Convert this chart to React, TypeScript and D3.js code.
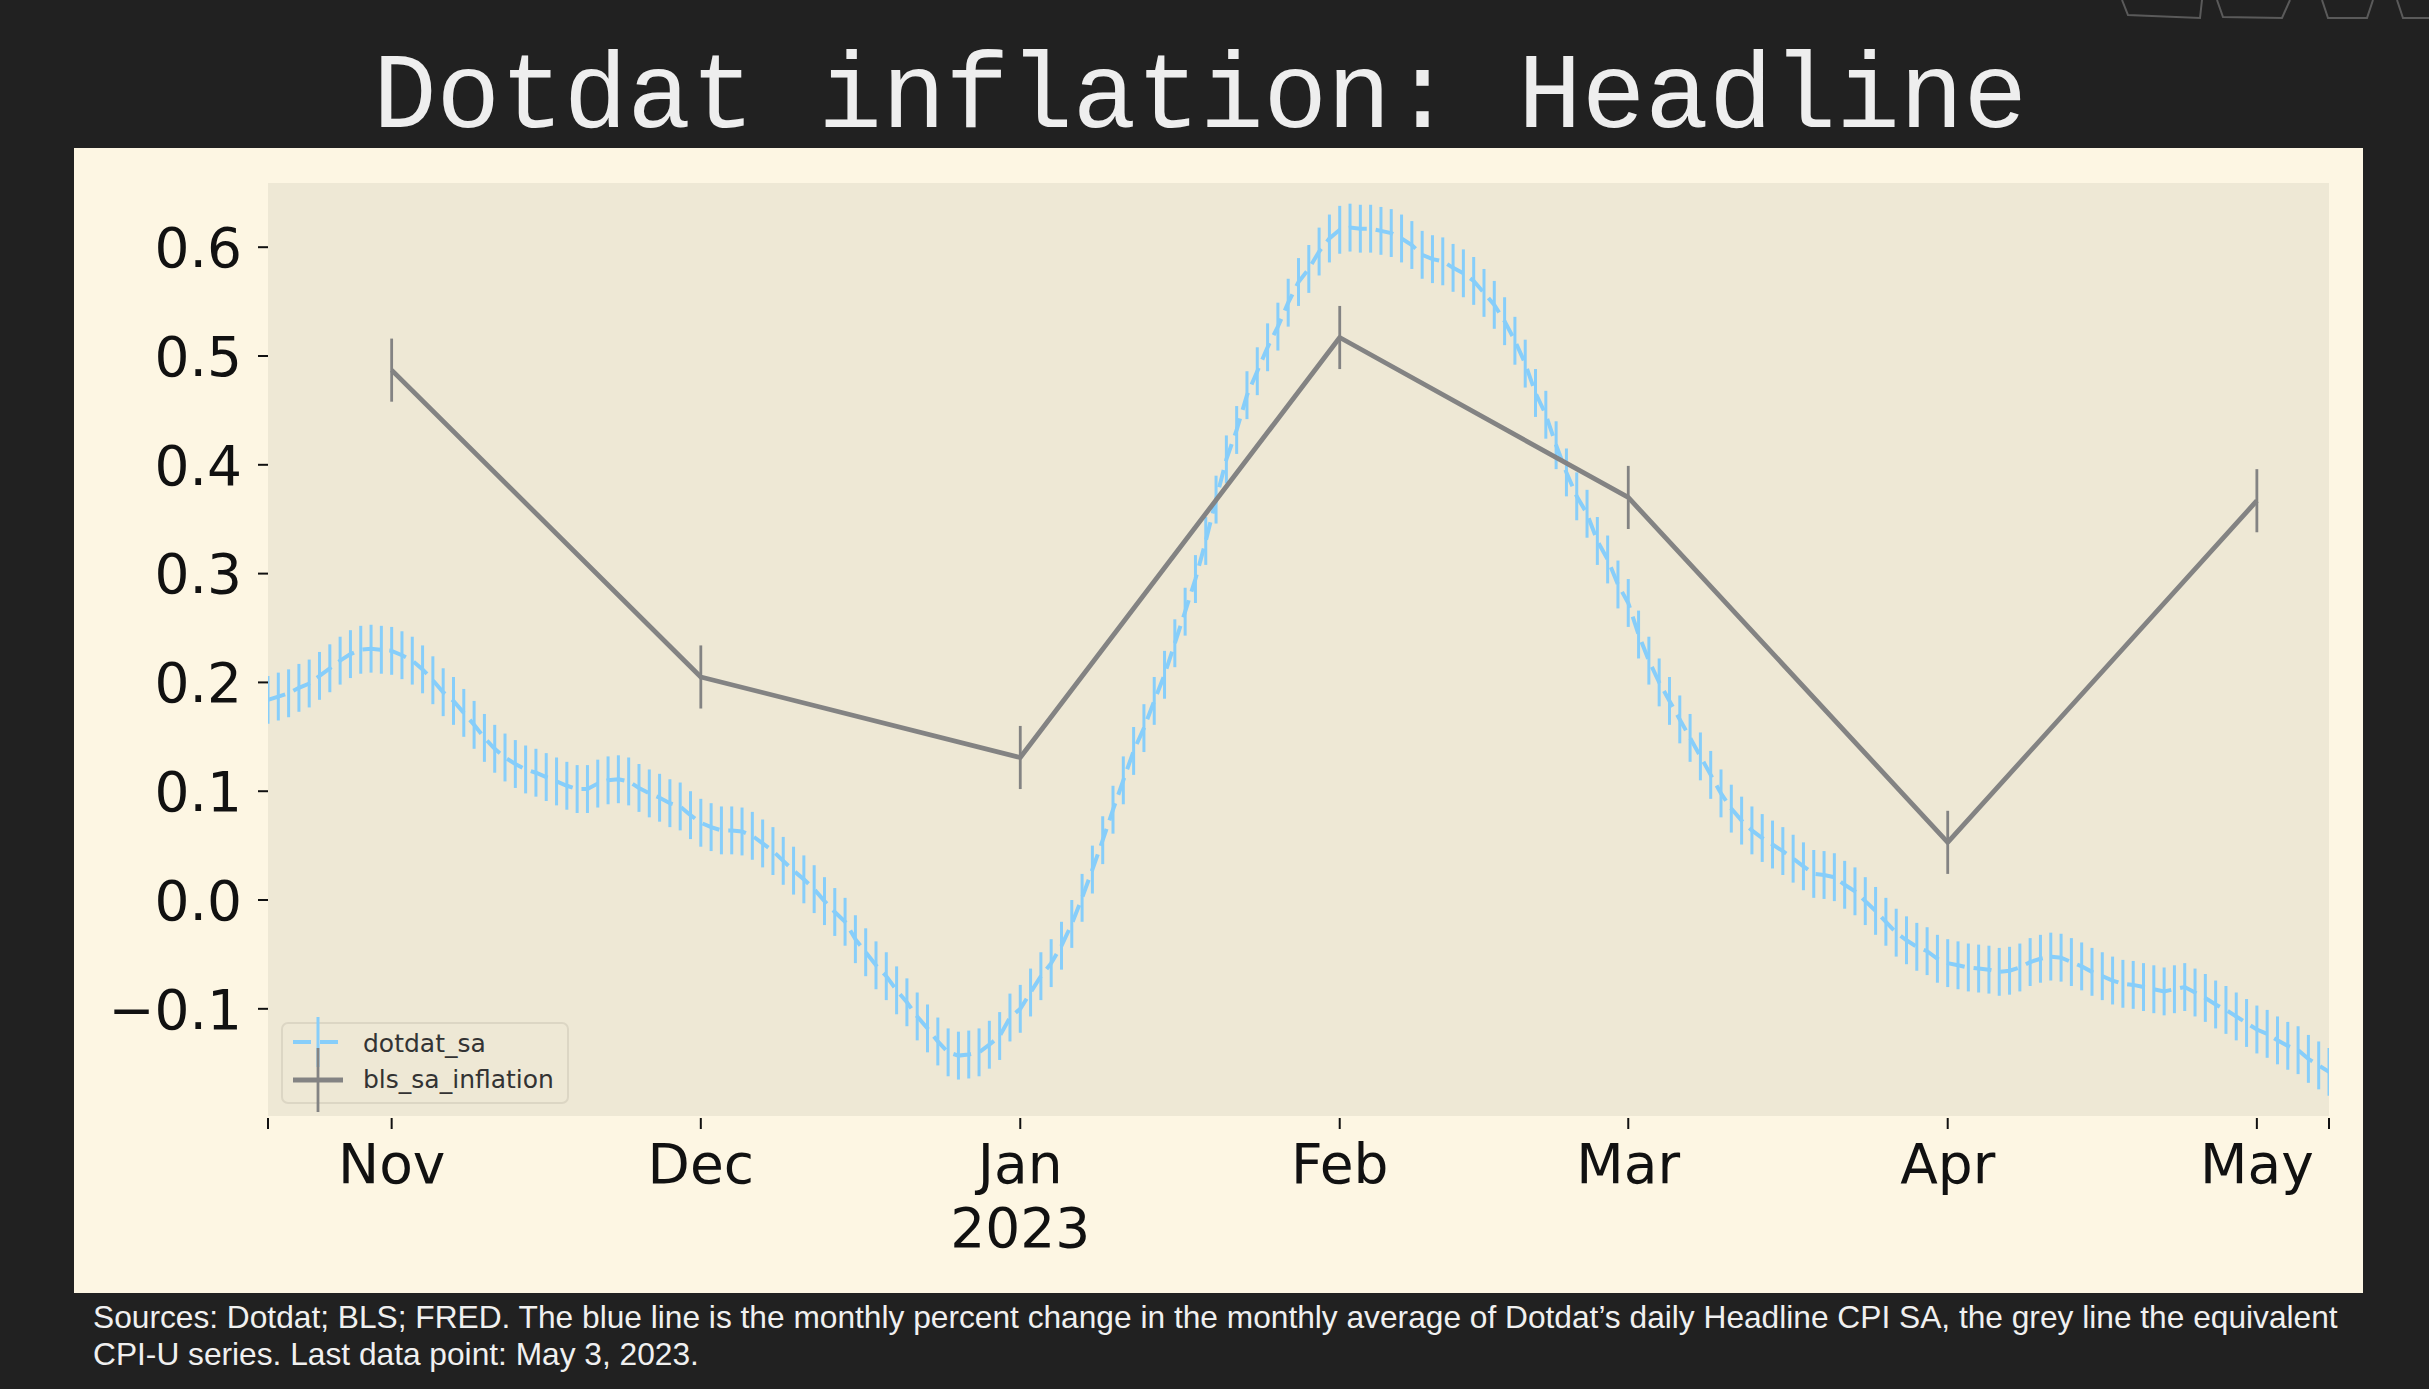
import React from 'react';
import * as d3 from 'd3';

// ---------- data ----------
const TITLE = 'Dotdat inflation: Headline';
const FOOTER_LINES = [
  'Sources: Dotdat; BLS; FRED. The blue line is the monthly percent change in the monthly average of Dotdat\u2019s daily Headline CPI SA, the grey line the equivalent',
  'CPI-U series. Last data point: May 3, 2023.',
];

const X_START = new Date(2022, 9, 20);
const X_END = new Date(2023, 4, 8);
const DOTDAT_START = new Date(2022, 9, 20);

// daily values, one per day from DOTDAT_START
const dotdatSa = [
  0.184, 0.187, 0.190, 0.195, 0.199, 0.206, 0.213, 0.220, 0.226, 0.230,
  0.231, 0.230, 0.229, 0.225, 0.220, 0.212, 0.202, 0.191, 0.183, 0.172,
  0.161, 0.149, 0.139, 0.131, 0.125, 0.120, 0.117, 0.113, 0.109, 0.105,
  0.102, 0.102, 0.107, 0.110, 0.111, 0.109, 0.103, 0.098, 0.094, 0.089,
  0.086, 0.078, 0.071, 0.067, 0.064, 0.064, 0.063, 0.059, 0.052, 0.045,
  0.036, 0.027, 0.019, 0.010, -0.001, -0.011, -0.020, -0.036, -0.048, -0.060,
  -0.070, -0.083, -0.094, -0.107, -0.118, -0.130, -0.140, -0.143, -0.142, -0.140,
  -0.133, -0.125, -0.108, -0.100, -0.085, -0.070, -0.058, -0.042, -0.022, 0.002,
  0.028, 0.055, 0.083, 0.110, 0.137, 0.158, 0.183, 0.207, 0.236, 0.265,
  0.295, 0.330, 0.368, 0.405, 0.432, 0.464, 0.486, 0.508, 0.527, 0.549,
  0.568, 0.580, 0.596, 0.608, 0.616, 0.618, 0.617, 0.617, 0.615, 0.613,
  0.608, 0.602, 0.593, 0.589, 0.587, 0.581, 0.576, 0.569, 0.558, 0.547,
  0.532, 0.514, 0.493, 0.466, 0.446, 0.418, 0.393, 0.371, 0.355, 0.330,
  0.313, 0.290, 0.273, 0.244, 0.220, 0.200, 0.183, 0.166, 0.149, 0.132,
  0.115, 0.098, 0.084, 0.073, 0.064, 0.057, 0.051, 0.045, 0.038, 0.031,
  0.024, 0.023, 0.021, 0.014, 0.008, -0.001, -0.010, -0.020, -0.030, -0.037,
  -0.043, -0.047, -0.054, -0.058, -0.060, -0.062, -0.063, -0.064, -0.066, -0.065,
  -0.062, -0.057, -0.054, -0.052, -0.053, -0.057, -0.061, -0.066, -0.070, -0.074,
  -0.077, -0.078, -0.080, -0.082, -0.084, -0.082, -0.080, -0.085, -0.090, -0.096,
  -0.101, -0.107, -0.113, -0.119, -0.123, -0.129, -0.134, -0.138, -0.146, -0.152,
  -0.158,
];
const dotdatErr = 0.022;

const blsDates = [
  new Date(2022, 10, 1), new Date(2022, 11, 1), new Date(2023, 0, 1), new Date(2023, 1, 1),
  new Date(2023, 2, 1), new Date(2023, 3, 1), new Date(2023, 4, 1),
];
const blsSaInflation = [0.487, 0.205, 0.131, 0.517, 0.370, 0.053, 0.367];
const blsErr = 0.029;

const yTicks = [-0.1, 0.0, 0.1, 0.2, 0.3, 0.4, 0.5, 0.6];
const monthTicks = [
  new Date(2022, 10, 1), new Date(2022, 11, 1), new Date(2023, 0, 1), new Date(2023, 1, 1),
  new Date(2023, 2, 1), new Date(2023, 3, 1), new Date(2023, 4, 1),
];
const monthLabels = ['Nov', 'Dec', 'Jan', 'Feb', 'Mar', 'Apr', 'May'];
const yearLabel = { date: new Date(2023, 0, 1), text: '2023' };
const legendLabels = ['dotdat_sa', 'bls_sa_inflation'];

// ---------- style ----------
const W = 2429;
const H = 1389;
const PLOT = { left: 268, right: 2329, top: 183, bottom: 1116 };
const BG = '#212121';
const PANEL = '#fdf6e3';
const AXBG = '#eee8d5';
const BLUE = '#87cefa';
const GREY = '#838383';
const TICK_FONT = 'DejaVu Sans, sans-serif';

export default function App() {
  const x = d3.scaleTime().domain([X_START, X_END]).range([PLOT.left, PLOT.right]);
  const y = d3.scaleLinear().domain([-0.1985, 0.659]).range([PLOT.bottom, PLOT.top]);
  const fmt = (v: number) => d3.format('.1f')(v).replace('-', '\u2212');

  const blue = dotdatSa.map((v, i) => ({ d: d3.timeDay.offset(DOTDAT_START, i), v }));
  const grey = blsSaInflation.map((v, i) => ({ d: blsDates[i], v }));

  const line = d3
    .line<{ d: Date; v: number }>()
    .x((p) => x(p.d))
    .y((p) => y(p.v));

  const edgeTicks = [X_START, X_END];

  return (
    <div style={{ position: 'absolute', left: 0, top: 0, width: W, height: H, background: BG }}>
      <svg width={W} height={H} style={{ display: 'block' }}>
        <rect x={0} y={0} width={W} height={H} fill={BG} />
        {/* top-right decoration */}
        <g stroke="#5a5a5a" strokeWidth={2} fill="none">
          <path d="M2122,0 L2128,15 L2200,18 L2202,0" />
          <path d="M2217,0 L2223,17 L2282,18 L2290,0" />
          <path d="M2322,0 L2328,18 L2367,18 L2373,0" />
          <path d="M2397,0 L2403,18 L2429,18" />
        </g>
        <text
          x={1200}
          y={127}
          textAnchor="middle"
          fontFamily="Liberation Mono, DejaVu Sans Mono, monospace"
          fontSize={108}
          fill="#eeeeee"
          textLength={1654}
          lengthAdjust="spacingAndGlyphs"
        >
          {TITLE}
        </text>

        {/* panel */}
        <rect x={74} y={148} width={2289} height={1145} fill={PANEL} />
        <rect
          x={PLOT.left}
          y={PLOT.top}
          width={PLOT.right - PLOT.left}
          height={PLOT.bottom - PLOT.top}
          fill={AXBG}
        />

        <defs>
          <clipPath id="plotclip">
            <rect
              x={PLOT.left}
              y={PLOT.top}
              width={PLOT.right - PLOT.left}
              height={PLOT.bottom - PLOT.top}
            />
          </clipPath>
        </defs>

        {/* y axis */}
        <g>
          {yTicks.map((t) => (
            <g key={t}>
              <line x1={PLOT.left - 10} x2={PLOT.left} y1={y(t)} y2={y(t)} stroke="#111" strokeWidth={2} />
              <text
                x={PLOT.left - 26}
                y={y(t)}
                dy="0.36em"
                textAnchor="end"
                fontFamily={TICK_FONT}
                fontSize={55}
                fill="#111"
              >
                {fmt(t)}
              </text>
            </g>
          ))}
        </g>

        {/* x axis */}
        <g>
          {edgeTicks.map((t, i) => (
            <line
              key={'e' + i}
              x1={x(t)}
              x2={x(t)}
              y1={PLOT.bottom + 2}
              y2={PLOT.bottom + 13}
              stroke="#111"
              strokeWidth={2}
            />
          ))}
          {monthTicks.map((t, i) => (
            <g key={i}>
              <line x1={x(t)} x2={x(t)} y1={PLOT.bottom + 2} y2={PLOT.bottom + 13} stroke="#111" strokeWidth={2} />
              <text
                x={x(t)}
                y={1183}
                textAnchor="middle"
                fontFamily={TICK_FONT}
                fontSize={55}
                fill="#111"
              >
                {monthLabels[i]}
              </text>
            </g>
          ))}
          <text
            x={x(yearLabel.date)}
            y={1247}
            textAnchor="middle"
            fontFamily={TICK_FONT}
            fontSize={55}
            fill="#111"
          >
            {yearLabel.text}
          </text>
        </g>

        {/* series */}
        <g clipPath="url(#plotclip)">
          <path d={line(blue) || ''} fill="none" stroke={BLUE} strokeWidth={4} strokeDasharray="18 9" />
          {blue.map((p, i) => (
            <line
              key={i}
              x1={x(p.d)}
              x2={x(p.d)}
              y1={y(p.v - dotdatErr)}
              y2={y(p.v + dotdatErr)}
              stroke={BLUE}
              strokeWidth={3}
            />
          ))}
          <path d={line(grey) || ''} fill="none" stroke={GREY} strokeWidth={4.8} strokeLinejoin="round" />
          {grey.map((p, i) => (
            <line
              key={i}
              x1={x(p.d)}
              x2={x(p.d)}
              y1={y(p.v - blsErr)}
              y2={y(p.v + blsErr)}
              stroke={GREY}
              strokeWidth={2.8}
            />
          ))}
        </g>

        {/* legend */}
        <g>
          <rect x={282} y={1023} width={286} height={80} rx={6} fill={AXBG} stroke="#dcd6c4" strokeWidth={2} />
          <line x1={293} x2={343} y1={1042} y2={1042} stroke={BLUE} strokeWidth={4} strokeDasharray="18 9" />
          <line x1={318} x2={318} y1={1017} y2={1067} stroke={BLUE} strokeWidth={3} />
          <line x1={293} x2={343} y1={1080} y2={1080} stroke={GREY} strokeWidth={4.8} />
          <line x1={318} x2={318} y1={1048} y2={1112} stroke={GREY} strokeWidth={2.8} />
          <text x={363} y={1052} fontFamily={TICK_FONT} fontSize={25} fill="#333">
            {legendLabels[0]}
          </text>
          <text x={363} y={1088} fontFamily={TICK_FONT} fontSize={25} fill="#333">
            {legendLabels[1]}
          </text>
        </g>

        {/* footer */}
        <text x={93} y={1328} fontFamily="Liberation Sans, Arial, sans-serif" fontSize={31.7} fill="#f0f0f0">
          {FOOTER_LINES[0]}
        </text>
        <text x={93} y={1365} fontFamily="Liberation Sans, Arial, sans-serif" fontSize={31.7} fill="#f0f0f0">
          {FOOTER_LINES[1]}
        </text>
      </svg>
    </div>
  );
}
